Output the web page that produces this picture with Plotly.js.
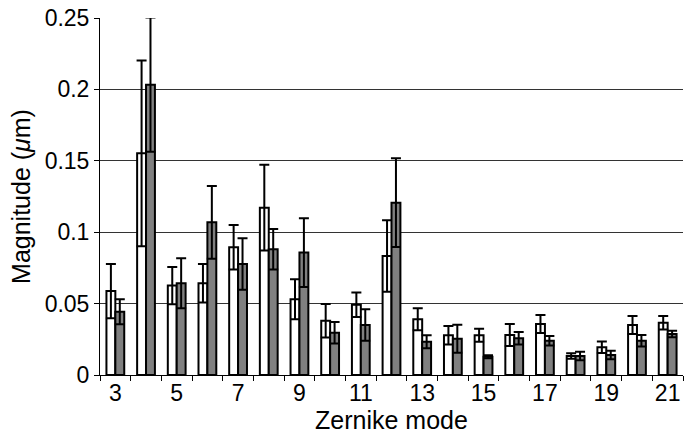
<!DOCTYPE html>
<html>
<head>
<meta charset="utf-8">
<script src="https://cdn.plot.ly/plotly-3.0.1.min.js"></script>
<style>html,body{margin:0;padding:0;background:#fff;}#chart{width:690px;height:437px;}</style>
</head>
<body>
<div id="chart"></div>
<script>
var modes = ['3','4','5','6','7','8','9','10','11','12','13','14','15','16','17','18','19','20','21'];
var tickLabels = ['3','','5','','7','','9','','11','','13','','15','','17','','19','','21'];
var whiteVals = [0.0588,0.1552,0.0626,0.0642,0.0894,0.1172,0.0530,0.0380,0.0492,0.0833,0.0390,0.0278,0.0278,0.0280,0.0357,0.0133,0.0194,0.0350,0.0366];
var whiteErr  = [0.0190,0.0650,0.0130,0.0135,0.0156,0.0300,0.0140,0.0117,0.0085,0.0250,0.0077,0.0065,0.0046,0.0077,0.0063,0.0020,0.0040,0.0063,0.0047];
var grayVals  = [0.0443,0.2033,0.0642,0.1069,0.0777,0.0880,0.0857,0.0296,0.0350,0.1207,0.0233,0.0254,0.0128,0.0257,0.0240,0.0133,0.0140,0.0240,0.0287];
var grayErr   = [0.0087,0.0470,0.0175,0.0255,0.0180,0.0142,0.0240,0.0075,0.0110,0.0310,0.0045,0.0098,0.0010,0.0044,0.0033,0.0030,0.0030,0.0040,0.0023];

var errStyle = function(arr){ return {type:'data', array:arr, visible:true, color:'#000', thickness:2, width:5}; };

var traces = [
  {type:'bar', x:modes, y:whiteVals, name:'white', marker:{color:'#ffffff', line:{color:'#000', width:2}}, error_y:errStyle(whiteErr)},
  {type:'bar', x:modes, y:grayVals, name:'gray', marker:{color:'#808080', line:{color:'#000', width:2}}, error_y:errStyle(grayErr)}
];

var fam = '"Liberation Sans", Arial, Helvetica, sans-serif';
var tickFont = {family:fam, size:23, color:'#000'};
var titleFont = {family:fam, size:25, color:'#000'};
var layout = {
  width:690, height:437,
  margin:{l:100, r:6.5, t:18, b:62},
  paper_bgcolor:'#fff', plot_bgcolor:'#fff',
  showlegend:false,
  barmode:'group', bargap:0.42, bargroupgap:0,
  font:tickFont,
  xaxis:{
    type:'category', tickmode:'array', tickvals:modes, ticktext:tickLabels, tickangle:0,
    tickson:'boundaries', ticks:'outside', ticklen:5, tickcolor:'#000', tickwidth:1,
    ticklabelstandoff:-3,
    showline:true, linecolor:'#000', linewidth:1, showgrid:false, zeroline:false,
    tickfont:tickFont, range:[-0.5,18.5], automargin:false,
    title:{text:'Zernike mode', font:titleFont, standoff:3}
  },
  yaxis:{
    range:[0,0.25], dtick:0.05, tick0:0,
    ticks:'outside', ticklen:5, tickcolor:'#000', tickwidth:1,
    showline:true, linecolor:'#000', linewidth:1,
    showgrid:true, gridcolor:'#333', gridwidth:1, zeroline:false,
    tickfont:tickFont, automargin:false,
    title:{text:'Magnitude (<i>μ</i>m)', font:titleFont, standoff:6}
  }
};
Plotly.newPlot('chart', traces, layout, {staticPlot:true, displayModeBar:false});
</script>
</body>
</html>
